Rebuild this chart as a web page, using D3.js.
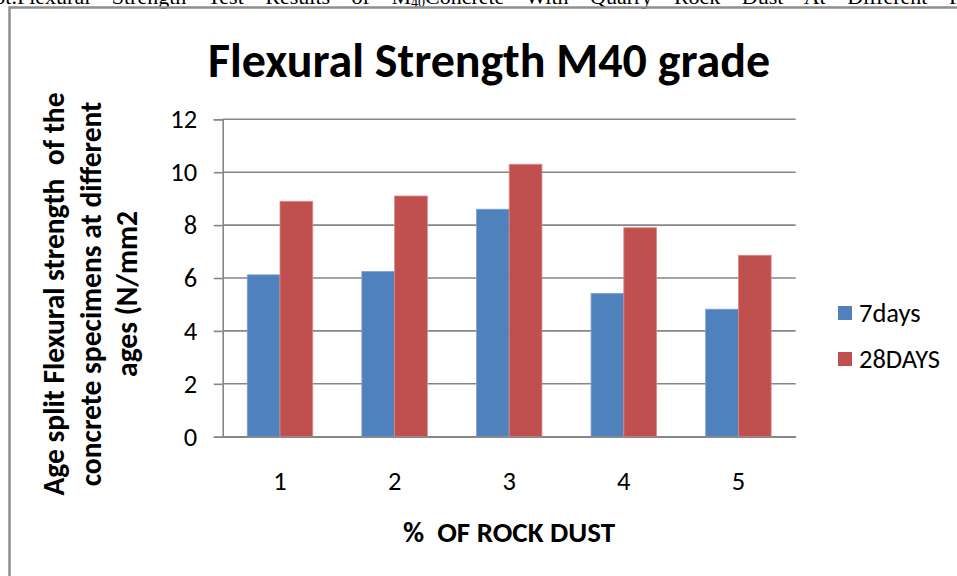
<!DOCTYPE html>
<html>
<head>
<meta charset="utf-8">
<script src="https://cdn.jsdelivr.net/npm/d3@7"></script>
<style>
  html, body { margin: 0; padding: 0; background: #fff; }
  svg { display: block; }
  text { font-family: Carlito, Calibri, Lato, sans-serif; fill: #000; }
</style>
</head>
<body>
<svg id="chart" width="957" height="576"></svg>
<script>
// Flexural strength of M40 concrete at 7 and 28 days vs. rock dust replacement
const categories = ["1", "2", "3", "4", "5"];
const seriesNames = ["7days", "28DAYS"];
const days7 = [6.12, 6.25, 8.6, 5.42, 4.82];
const days28 = [8.9, 9.1, 10.3, 7.9, 6.86];
const yTicks = [0, 2, 4, 6, 8, 10, 12];
const colors = ["#4F81BD", "#C0504D"];

const titleText = "Flexural Strength M40 grade";
const xTitle = "%  OF ROCK DUST";
const yTitleLines = ["Age split Flexural strength  of the", "concrete specimens at different", "ages (N/mm2"];

const svg = d3.select("#chart");
svg.append("rect").attr("width", 957).attr("height", 576).attr("fill", "#fff");

// page caption above the figure frame (runs off the top edge)
const cap = svg.append("text")
  .attr("x", -24).attr("y", 4)
  .style("font-family", "'Liberation Serif', 'Times New Roman', serif")
  .style("font-size", "22px").style("word-spacing", "16px");
cap.append("tspan").text("Plot.Flexural Strength Test Results of M");
cap.append("tspan").attr("dy", 3).style("font-size", "14px").text("40");
cap.append("tspan").attr("dy", -3).text("Concrete With Quarry Rock Dust At Different Percentages");

// figure frame
svg.append("rect")
  .attr("x", 9.5).attr("y", 7.5).attr("width", 1000).attr("height", 620)
  .attr("fill", "none").attr("stroke", "#8f8f8f").attr("stroke-width", 2.5);

const plot = { left: 222.7, right: 795.7, top: 119.3, bottom: 436.7 };

const x = d3.scaleBand().domain(categories).range([plot.left, plot.right]).padding(0);
const barW = x.bandwidth() / 3.5;
const xs = d3.scaleBand().domain(seriesNames)
  .range([barW * 0.75, x.bandwidth() - barW * 0.75]).padding(0);
const y = d3.scaleLinear().domain([0, 12]).range([plot.bottom, plot.top]);

// gridlines
svg.append("g").selectAll("line").data(yTicks).join("line")
  .attr("x1", plot.left).attr("x2", plot.right)
  .attr("y1", d => y(d)).attr("y2", d => y(d))
  .attr("stroke", "#868686").attr("stroke-width", 1.6);

// bars
const series = [days7, days28];
const groups = svg.append("g").selectAll("g").data(categories).join("g")
  .attr("transform", d => `translate(${x(d)},0)`);
groups.selectAll("rect")
  .data((c, i) => seriesNames.map((s, k) => ({ s, k, v: series[k][i] })))
  .join("rect")
  .attr("x", d => xs(d.s))
  .attr("width", xs.bandwidth())
  .attr("y", d => y(d.v))
  .attr("height", d => y(0) - y(d.v))
  .attr("fill", d => colors[d.k])
  .attr("stroke", d => d.k === 1 ? "#d98a88" : "#7fa3cf")
  .attr("stroke-width", 0.8);

// y axis
const yAxis = d3.axisLeft(y).tickValues(yTicks).tickSize(9).tickPadding(16.5).tickFormat(d3.format("d"));
const gy = svg.append("g").attr("transform", `translate(${plot.left},0)`).call(yAxis);
gy.select(".domain").attr("stroke", "#868686").attr("stroke-width", 1.6);
gy.selectAll(".tick line").attr("stroke", "#868686").attr("stroke-width", 1.6);
gy.selectAll(".tick text").style("font-size", "26.5px").attr("fill", "#000")
  .style("font-family", "Carlito, Calibri, Lato, sans-serif");

// x axis
const xAxis = d3.axisBottom(x).tickSize(0).tickPadding(34.5);
const gx = svg.append("g").attr("transform", `translate(0,${plot.bottom})`).call(xAxis);
gx.select(".domain").attr("stroke", "#868686").attr("stroke-width", 1.6);
gx.selectAll(".tick text").style("font-size", "26.5px").attr("fill", "#000")
  .style("font-family", "Carlito, Calibri, Lato, sans-serif");

// titles
svg.append("text").attr("x", 489).attr("y", 77).attr("text-anchor", "middle")
  .style("font-size", "48px").style("font-weight", "bold").text(titleText);

svg.append("text").attr("x", 509).attr("y", 542).attr("text-anchor", "middle")
  .style("font-size", "29px").style("font-weight", "bold").style("white-space", "pre")
  .text(xTitle);

const yt = svg.append("g").attr("transform", "translate(0,294) rotate(-90)");
yt.selectAll("text").data(yTitleLines).join("text")
  .attr("x", 0).attr("y", (d, i) => 64 + i * 36.5)
  .attr("text-anchor", "middle")
  .style("font-size", "29.5px").style("font-weight", "bold").style("white-space", "pre")
  .text(d => d);

// legend
const lg = svg.append("g").attr("transform", "translate(838,306)");
const li = lg.selectAll("g").data(seriesNames).join("g")
  .attr("transform", (d, i) => `translate(0,${i * 46})`);
li.append("rect").attr("width", 14).attr("height", 14).attr("fill", (d, i) => colors[i]);
li.append("text").attr("x", 21).attr("y", 15.5).style("font-size", "26.5px").text(d => d);
</script>
</body>
</html>
